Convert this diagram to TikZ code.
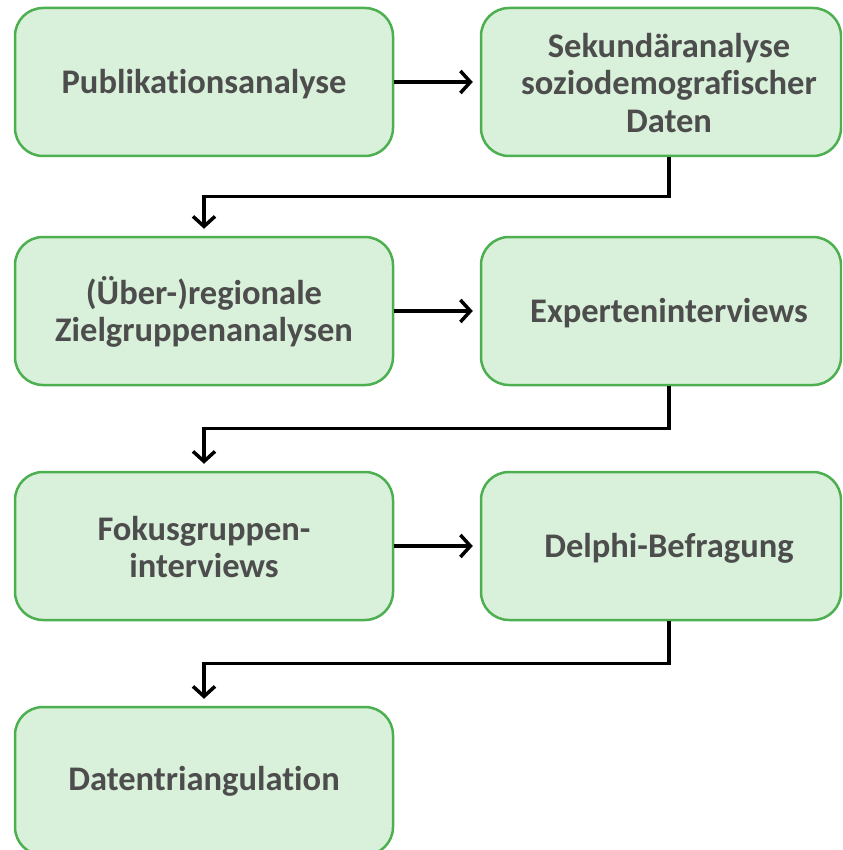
\documentclass[tikz,border=0pt]{standalone}
\usepackage{fontspec}
\setmainfont{Carlito}[Ligatures={NoCommon}]
\usetikzlibrary{arrows.meta,calc}
\definecolor{boxfill}{HTML}{D9F0DA}
\definecolor{boxdraw}{HTML}{4CAF50}
\definecolor{txtcol}{HTML}{4D4D4D}
\tikzset{
  stepbox/.style={draw=boxdraw, fill=boxfill, line width=2.5pt, rounded corners=28pt, minimum height=148pt, inner sep=0pt},
  lbox/.style={stepbox, minimum width=378pt},
  rbox/.style={stepbox, minimum width=360pt},
  txt/.style={text=txtcol, font=\fontsize{34.5}{37.5}\selectfont\bfseries, align=center, inner sep=0pt},
  conn/.style={draw=black, line width=3.5pt, -{Straight Barb[length=10pt,width=22pt,line width=3.5pt]}, shorten >=7pt}
}
\begin{document}
\begin{tikzpicture}[x=1pt,y=-1pt]
\useasboundingbox (0,0) rectangle (842,850);
\clip (0,0) rectangle (842,850);
% row 1
\node[lbox] (b1) at (204,82) {};
\node[txt] (t1) at (204,84) {Publikationsanalyse};
\node[rbox] (b2) at (661,82) {};
\node[txt] (t2) at (669,83) {Sekundäranalyse\\soziodemografischer\\Daten};
% row 2
\node[lbox] (b3) at (204,311) {};
\node[txt] (t3) at (204,312) {(Über-)regionale\\Zielgruppenanalysen};
\node[rbox] (b4) at (661,311) {};
\node[txt] (t4) at (669,313) {Experteninterviews};
% row 3
\node[lbox] (b5) at (204,546) {};
\node[txt] (t5) at (204,547) {Fokusgruppen-\\interviews};
\node[rbox] (b6) at (661,546) {};
\node[txt] (t6) at (669,548) {Delphi-Befragung};
% row 4
\node[lbox] (b7) at (204,781) {};
\node[txt] (t7) at (204,781) {Datentriangulation};
% connectors
\draw[conn] (b1.east) -- (b2.west);
\draw[conn] (b3.east) -- (b4.west);
\draw[conn] (b5.east) -- (b6.west);
\coordinate (e2) at ([xshift=8pt]b2.south);
\coordinate (e4) at ([xshift=8pt]b4.south);
\coordinate (e6) at ([xshift=8pt]b6.south);
\draw[conn] (e2) |- ($(e2)!.5!(b3.north)$) -| (b3.north);
\draw[conn] (e4) |- ($(e4)!.5!(b5.north)$) -| (b5.north);
\draw[conn] (e6) |- ($(e6)!.5!(b7.north)$) -| (b7.north);
\end{tikzpicture}
\end{document}
